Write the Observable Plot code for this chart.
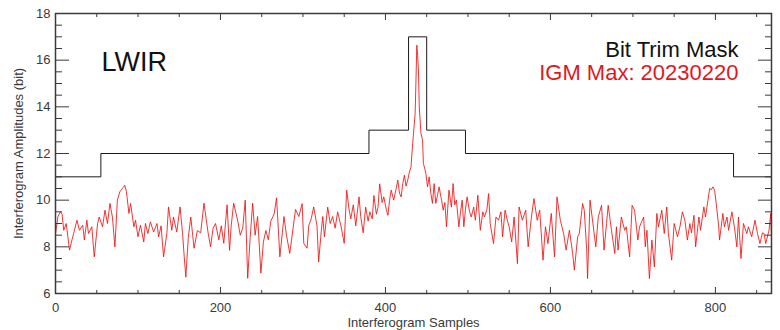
<!DOCTYPE html>
<html>
<head>
<meta charset="utf-8">
<script src="https://cdn.jsdelivr.net/npm/d3@7"></script>
<script src="https://cdn.jsdelivr.net/npm/@observablehq/plot@0.6"></script>
<style>
  html, body { margin: 0; padding: 0; background: #fff; }
  #chart { width: 780px; height: 330px; }
</style>
</head>
<body>
<div id="chart"></div>
<script>
// Bit trim mask (step function): breakpoints and levels
const maskX = [0, 55, 380, 428, 450, 497, 822, 868];
const maskY = [11, 12, 13, 17, 13, 12, 11, 11];

// IGM max amplitudes (sample index, bits)
const igmX = [0,3,6,8,10,13,15,17,20,22,26,29,33,35,38,40,44,47,51,53,57,60,63,66,69,72,75,78,81,84,86,89,91,95,97,100,103,107,109,112,115,119,123,125,128,131,135,137,141,143,147,151,154,156,158,161,164,168,172,176,180,185,188,191,194,198,201,204,208,211,213,216,221,224,227,230,233,236,239,242,245,249,252,255,258,261,265,268,272,275,277,280,284,288,291,295,299,301,305,307,310,313,317,319,322,324,326,330,333,336,339,342,346,350,353,356,358,361,364,368,370,373,376,379,381,384,386,389,391,393,396,398,401,403,405,407,410,413,415,417,419,421,423,425,427,429,431,433,434,436,437,438,439,440,441,443,445,446,448,449,451,453,455,457,459,461,463,465,468,470,472,474,477,480,482,484,486,489,491,493,495,497,499,502,504,507,509,512,515,518,520,523,525,527,531,534,537,540,542,545,548,550,553,556,560,562,566,570,573,577,580,584,587,591,594,597,601,605,608,612,616,619,623,627,629,633,635,639,641,644,645,648,652,655,658,662,665,668,670,674,678,680,682,686,690,692,696,699,702,706,708,713,715,717,720,723,726,729,731,735,738,741,743,747,750,754,757,760,763,766,769,771,774,776,780,782,786,788,791,793,795,797,799,801,804,805,809,811,814,816,820,823,826,828,831,834,838,840,844,848,851,854,857,859,861,865,867,868];
const igmY = [8.57,9.3,9.5,9.4,8.71,9.0,8.43,7.86,8.3,8.57,9.14,8.71,8.93,8.29,9.14,8.57,8.86,7.57,9.0,9.28,8.86,9.57,9.0,9.86,9.28,8.0,10.0,10.36,10.5,10.64,10.36,9.43,9.86,8.86,9.14,8.43,8.93,8.21,9.0,8.57,9.07,8.64,9.0,8.43,8.9,7.57,8.57,9.71,8.71,9.28,8.64,9.71,8.6,7.6,6.7,8.4,9.28,7.94,8.7,8.6,9.87,8.6,8.0,8.8,9.0,8.3,8.9,8.15,9.8,7.85,8.9,9.87,9.1,8.5,8.8,10.0,6.65,8.4,9.87,8.5,9.3,6.87,8.2,8.7,8.3,9.1,9.4,10.1,7.57,8.6,9.3,8.5,7.72,8.8,9.6,9.3,9.85,8.15,7.94,8.9,9.2,9.71,8.9,7.35,8.6,9.3,8.43,9.7,9.0,9.3,8.8,9.5,8.9,8.15,10.43,9.57,9.2,9.8,8.9,10.14,9.3,8.6,9.7,9.1,9.5,9.2,10.2,9.4,9.7,10.7,9.9,10.14,9.6,9.35,10.0,10.43,10.0,10.5,10.86,10.3,10.14,10.7,11.07,10.6,10.86,11.2,11.43,12.43,12.87,13.71,15.14,16.64,16.2,15.57,14.0,12.87,12.57,11.57,11.3,11.14,10.57,11.0,10.3,9.86,10.71,9.86,10.2,10.57,10.0,9.57,9.9,8.86,10.43,9.7,10.71,9.8,10.0,8.86,9.5,10.0,8.86,9.6,10.14,9.5,9.28,9.7,9.14,10.21,8.71,9.5,9.28,9.6,10.28,9.0,8.14,9.28,9.14,9.5,8.43,9.57,9.1,8.86,8.21,9.28,7.28,9.71,9.14,9.57,8.0,9.28,10.07,9.14,9.57,7.43,8.86,8.14,9.43,7.57,10.14,9.14,8.57,7.86,8.71,7.71,7.0,8.43,8.57,9.86,9.57,7.86,6.64,10.0,8.86,8.0,9.28,9.78,7.86,9.0,9.78,8.71,7.71,8.86,7.86,9.28,8.71,8.86,7.57,9.78,9.57,8.29,8.86,9.28,8.0,8.71,6.64,8.29,7.14,9.43,8.86,9.57,8.57,9.71,8.57,7.43,9.0,8.43,8.86,9.5,9.14,8.29,9.0,8.6,9.35,8.0,9.28,8.71,9.71,9.28,10.0,10.5,10.45,10.57,10.43,9.86,8.86,8.29,9.43,8.86,9.28,8.71,9.5,8.86,8.0,9.28,7.5,9.0,8.57,8.86,8.43,9.14,8.57,8.14,8.6,8.57,8.14,8.71,9.43,8.43];

// Tick values
const xMajor = [0, 200, 400, 600, 800];
const xMinor = [50, 100, 150, 250, 300, 350, 450, 500, 550, 650, 700, 750, 850];
const yMajor = [6, 8, 10, 12, 14, 16, 18];
const yMinor = [6.5, 7, 7.5, 8.5, 9, 9.5, 10.5, 11, 11.5, 12.5, 13, 13.5, 14.5, 15, 15.5, 16.5, 17, 17.5];

const mask = maskX.map((x, i) => ({x, y: maskY[i]}));
const igm = igmX.map((x, i) => ({x, y: igmY[i]}));

const axisColor = "#3a3a3a";
const redColor = "#f01010";

const chart = Plot.plot({
  width: 780,
  height: 330,
  marginLeft: 55,
  marginRight: 9,
  marginTop: 13,
  marginBottom: 37,
  style: {fontFamily: "'Liberation Sans', Arial, sans-serif", background: "#fff"},
  x: {domain: [0, 868]},
  y: {domain: [6, 18]},
  marks: [
    // data
    Plot.line(mask, {x: "x", y: "y", curve: "step-after", stroke: "#1a1a1a", strokeWidth: 1}),
    Plot.line(igm, {x: "x", y: "y", stroke: redColor, strokeWidth: 0.85}),
    // tick labels
    Plot.axisY(yMajor, {anchor: "left", tickSize: 0, tickPadding: 5, label: null, fontSize: 13, fill: axisColor}),
    Plot.axisX(xMajor, {anchor: "bottom", tickSize: 0, tickPadding: 9, label: null, fontSize: 13, fill: axisColor}),
    // inward ticks
    Plot.axisY(yMajor, {anchor: "left", tickSize: -14, text: null, label: null, stroke: axisColor}),
    Plot.axisY(yMinor, {anchor: "left", tickSize: -7, text: null, label: null, stroke: axisColor}),
    Plot.axisY(yMajor, {anchor: "right", tickSize: -14, text: null, label: null, stroke: axisColor}),
    Plot.axisY(yMinor, {anchor: "right", tickSize: -7, text: null, label: null, stroke: axisColor}),
    Plot.axisX(xMajor, {anchor: "bottom", tickSize: -6, text: null, label: null, stroke: axisColor}),
    Plot.axisX(xMinor, {anchor: "bottom", tickSize: -3, text: null, label: null, stroke: axisColor}),
    Plot.axisX(xMajor, {anchor: "top", tickSize: -6, text: null, label: null, stroke: axisColor}),
    Plot.axisX(xMinor, {anchor: "top", tickSize: -3, text: null, label: null, stroke: axisColor}),
    Plot.frame({stroke: axisColor, strokeWidth: 1.5}),
    // axis titles
    Plot.text(["Interferogram Amplitudes (bit)"], {frameAnchor: "left", rotate: -90, dx: -37, textAnchor: "middle", lineAnchor: "middle", fontSize: 13, fill: axisColor}),
    Plot.text(["Interferogram Samples"], {frameAnchor: "bottom", dy: 29, textAnchor: "middle", lineAnchor: "middle", fontSize: 13, fill: axisColor}),
    // annotations
    Plot.text(["LWIR"], {frameAnchor: "top-left", dx: 46, dy: 49, textAnchor: "start", lineAnchor: "middle", fontSize: 27, fill: "#111"}),
    Plot.text(["Bit Trim Mask"], {frameAnchor: "top-right", dx: -33, dy: 36, textAnchor: "end", lineAnchor: "middle", fontSize: 22, fill: "#111"}),
    Plot.text(["IGM Max: 20230220"], {frameAnchor: "top-right", dx: -33, dy: 59.5, textAnchor: "end", lineAnchor: "middle", fontSize: 22, fill: "#e3161c"})
  ]
});
document.getElementById("chart").appendChild(chart);
</script>
</body>
</html>
